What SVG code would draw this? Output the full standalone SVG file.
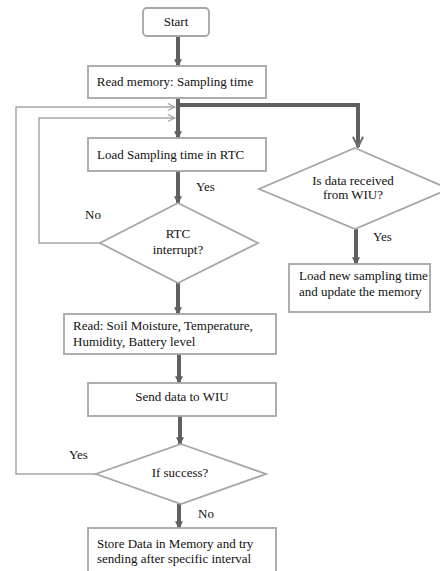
<svg xmlns="http://www.w3.org/2000/svg" width="440" height="571" viewBox="0 0 440 571">
<defs>
<marker id="ah" viewBox="0 0 6 6" refX="5" refY="3" markerWidth="2" markerHeight="2" orient="auto" markerUnits="strokeWidth"><path d="M0,0 L6,3 L0,6 z" fill="#606060"/></marker>
<marker id="ahOpen" viewBox="0 0 10 10" refX="9" refY="5" markerWidth="3.2" markerHeight="3.2" orient="auto" markerUnits="strokeWidth"><path d="M1,1 L9,5 L1,9" fill="none" stroke="#707070" stroke-width="1.6"/></marker>
<marker id="ahThin" viewBox="0 0 10 10" refX="9" refY="5" markerWidth="6" markerHeight="6" orient="auto" markerUnits="strokeWidth"><path d="M1,1 L9,5 L1,9" fill="none" stroke="#a0a0a0" stroke-width="1.2"/></marker>
</defs>
<style>
.box{fill:#fff;stroke:#a6a6a6;stroke-width:1.8}
.t{font-family:"Liberation Serif","Times New Roman","DejaVu Serif",serif;font-size:13px;fill:#111}
.m{text-anchor:middle}
.thick{fill:none;stroke:#606060;stroke-width:4}
.thin{fill:none;stroke:#a6a6a6;stroke-width:1.5}
</style>
<g id="connectors">
<line class="thick" x1="178" y1="36" x2="178" y2="66" marker-end="url(#ah)"/>
<line class="thick" x1="178" y1="98" x2="178" y2="138" marker-end="url(#ah)"/>
<polyline class="thick" points="178,105 358,105 358,147" marker-end="url(#ahOpen)"/>
<line class="thick" x1="178" y1="171" x2="178" y2="203" marker-end="url(#ah)"/>
<line class="thick" x1="178" y1="283" x2="178" y2="314" marker-end="url(#ah)"/>
<line class="thick" x1="179" y1="354" x2="179" y2="383" marker-end="url(#ah)"/>
<line class="thick" x1="180" y1="416" x2="180" y2="444" marker-end="url(#ah)"/>
<line class="thick" x1="179" y1="504" x2="179" y2="528" marker-end="url(#ah)"/>
<line class="thick" x1="356" y1="229" x2="356" y2="264" marker-end="url(#ah)"/>
<polyline class="thin" points="100,243 39,243 39,118 175,118" marker-end="url(#ahThin)"/>
<polyline class="thin" points="96,474 16,474 16,107 175,107" marker-end="url(#ahThin)"/>
<text class="t" x="196" y="191">Yes</text>
<text class="t" x="85" y="219">No</text>
<text class="t" x="373" y="241">Yes</text>
<text class="t" x="69" y="459">Yes</text>
<text class="t" x="198" y="518">No</text>
</g>
<g id="start">
<rect class="box" x="143" y="8" width="66" height="28" rx="4"/>
<text class="t m" x="176" y="26">Start</text>
</g>
<g id="read-memory">
<rect class="box" x="88" y="66" width="178" height="32"/>
<text class="t m" x="175" y="86">Read memory: Sampling time</text>
</g>
<g id="load-rtc">
<rect class="box" x="88" y="138" width="178" height="33"/>
<text class="t" x="97" y="159">Load Sampling time in RTC</text>
</g>
<g id="rtc-interrupt">
<polygon class="box" points="178,203 258,243 178,283 100,243"/>
<text class="t m" x="178" y="238">RTC</text>
<text class="t m" x="178" y="254">interrupt?</text>
</g>
<g id="data-received">
<polygon class="box" points="355,148 449,189 355,229 259,189"/>
<text class="t m" x="353" y="185">Is data received</text>
<text class="t m" x="353" y="199">from WIU?</text>
</g>
<g id="load-new">
<rect class="box" x="289" y="264" width="141" height="48"/>
<text class="t" x="299" y="280">Load new sampling time</text>
<text class="t" x="299" y="296">and update the memory</text>
</g>
<g id="read-sensors">
<rect class="box" x="64" y="314" width="212" height="40"/>
<text class="t" x="73" y="330">Read: Soil Moisture, Temperature,</text>
<text class="t" x="73" y="346">Humidity, Battery level</text>
</g>
<g id="send-data">
<rect class="box" x="88" y="383" width="188" height="33"/>
<text class="t m" x="182" y="401">Send data to WIU</text>
</g>
<g id="if-success">
<polygon class="box" points="181,444 266,474 181,504 96,474"/>
<text class="t m" x="180" y="477">If success?</text>
</g>
<g id="store-data">
<rect class="box" x="88" y="528" width="188" height="50"/>
<text class="t" x="97" y="548">Store Data in Memory and try</text>
<text class="t" x="97" y="563">sending after specific interval</text>
</g>
</svg>
